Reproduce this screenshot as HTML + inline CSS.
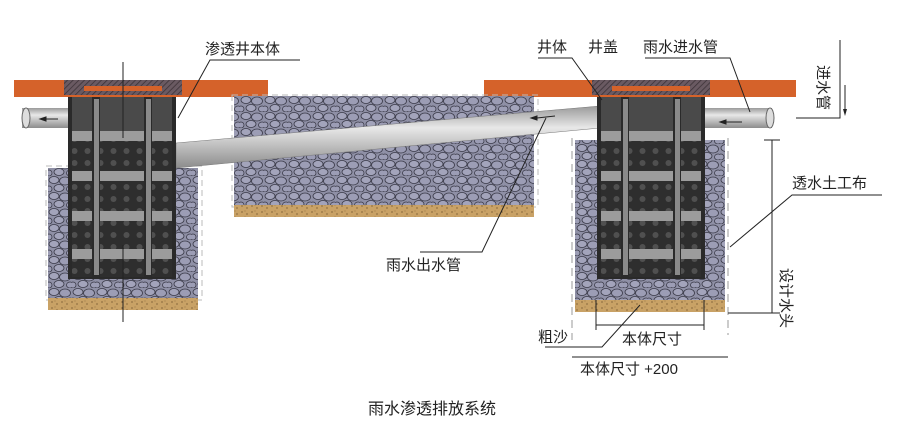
<!DOCTYPE html>
<html><head><meta charset="utf-8"><style>
html,body{margin:0;padding:0;background:#fff}
svg{display:block}
text{font-family:"Liberation Sans","Noto Sans CJK SC",sans-serif;fill:#222}
</style></head><body>
<svg width="900" height="444" viewBox="0 0 900 444" xmlns="http://www.w3.org/2000/svg">
<defs>
<pattern id="grav" width="24" height="16" patternUnits="userSpaceOnUse">
<rect width="24" height="16" fill="#8f90a6"/>
<ellipse cx="6" cy="4" rx="5" ry="3.5" fill="#a3a4bb" stroke="#3a3a48" stroke-width="0.8"/>
<ellipse cx="17" cy="5" rx="5.5" ry="4" fill="#9c9db5" stroke="#3a3a48" stroke-width="0.8"/>
<ellipse cx="11" cy="12" rx="5" ry="3.5" fill="#a3a4bb" stroke="#3a3a48" stroke-width="0.8"/>
<ellipse cx="22" cy="13" rx="3.5" ry="3" fill="#9c9db5" stroke="#3a3a48" stroke-width="0.8"/>
<ellipse cx="1" cy="13" rx="3" ry="3" fill="#9c9db5" stroke="#3a3a48" stroke-width="0.8"/>
</pattern>
<pattern id="sand" width="10" height="6" patternUnits="userSpaceOnUse">
<rect width="10" height="6" fill="#c9a266"/>
<circle cx="2" cy="2" r="0.6" fill="#5a4020"/><circle cx="7" cy="4" r="0.6" fill="#5a4020"/><circle cx="5" cy="1" r="0.4" fill="#5a4020"/>
</pattern>
<pattern id="dots" width="13" height="12" patternUnits="userSpaceOnUse">
<rect width="13" height="12" fill="#2e2e2e"/>
<circle cx="6.5" cy="6" r="3" fill="#505050"/>
</pattern>
<pattern id="hatch" width="4" height="4" patternUnits="userSpaceOnUse" patternTransform="rotate(45)">
<rect width="4" height="4" fill="#6a5a62"/><line x1="0" y1="0" x2="0" y2="4" stroke="#3a3035" stroke-width="1.5"/>
</pattern>
<linearGradient id="pipe" x1="0" y1="0" x2="0" y2="1">
<stop offset="0" stop-color="#9a9a9a"/><stop offset="0.35" stop-color="#e8e8e8"/><stop offset="1" stop-color="#8c8c8c"/>
</linearGradient>
<g id="well">
<rect x="0" y="0" width="108" height="182" fill="#2a2a2a"/>
<rect x="4" y="0" width="100" height="34" fill="#4a4a4a"/>
<rect x="4" y="44" width="100" height="30" fill="url(#dots)"/>
<rect x="4" y="84" width="100" height="30" fill="url(#dots)"/>
<rect x="4" y="124" width="100" height="30" fill="url(#dots)"/>
<rect x="4" y="162" width="100" height="18" fill="url(#dots)"/>
<rect x="4" y="34" width="100" height="10" fill="#9c9c9c"/>
<rect x="4" y="74" width="100" height="10" fill="#9c9c9c"/>
<rect x="4" y="114" width="100" height="10" fill="#9c9c9c"/>
<rect x="4" y="152" width="100" height="10" fill="#9c9c9c"/>
<rect x="24" y="0" width="8" height="180" fill="#2a2a2a"/>
<rect x="26" y="2" width="5" height="176" fill="#8a8a8a"/>
<rect x="76" y="0" width="8" height="180" fill="#2a2a2a"/>
<rect x="78" y="2" width="5" height="176" fill="#8a8a8a"/>
</g>
</defs>

<!-- road strips -->
<rect x="14" y="80" width="254" height="17" fill="#d5622a"/>
<rect x="484" y="80" width="312" height="17" fill="#d5622a"/>

<!-- left gravel -->
<rect x="46" y="166" width="156" height="134" fill="none" stroke="#bbb" stroke-dasharray="6,4"/>
<rect x="48" y="168" width="150" height="130" fill="url(#grav)"/>
<rect x="48" y="298" width="150" height="12" fill="url(#sand)"/>

<!-- middle gravel -->
<rect x="232" y="95" width="306" height="112" fill="none" stroke="#bbb" stroke-dasharray="6,4"/>
<rect x="234" y="96" width="300" height="109" fill="url(#grav)"/>
<rect x="234" y="205" width="300" height="12" fill="url(#sand)"/>

<!-- right gravel -->
<rect x="575" y="140" width="150" height="160" fill="url(#grav)"/>
<rect x="575" y="300" width="150" height="12" fill="url(#sand)"/>
<line x1="572" y1="138" x2="572" y2="340" stroke="#999" stroke-dasharray="8,5"/>
<line x1="728" y1="138" x2="728" y2="335" stroke="#999" stroke-dasharray="8,5"/>

<!-- pipes -->
<polygon points="176,143 600,106 600,128 176,168" fill="url(#pipe)" stroke="#777" stroke-width="0.5"/>
<rect x="22" y="108" width="50" height="20" fill="url(#pipe)"/>
<ellipse cx="26" cy="118" rx="4" ry="10" fill="#ddd" stroke="#666"/>
<rect x="704" y="108" width="68" height="20" fill="url(#pipe)"/>
<ellipse cx="770" cy="118" rx="4" ry="10" fill="#ddd" stroke="#666"/>

<!-- wells -->
<use href="#well" x="68" y="97"/>
<use href="#well" x="597" y="97"/>

<!-- covers -->
<path d="M64,80 H182 V95 H64Z" fill="url(#hatch)"/>
<rect x="84" y="86" width="78" height="5" fill="#d5622a"/>
<path d="M592,80 H710 V95 H592Z" fill="url(#hatch)"/>
<rect x="612" y="86" width="78" height="5" fill="#d5622a"/>

<!-- arrows in pipes -->
<g stroke="#222" stroke-width="1" fill="#222">
<line x1="45" y1="119" x2="58" y2="119"/><polygon points="40,119 46,117 46,121"/>
<line x1="537" y1="118" x2="555" y2="116"/><polygon points="531,118 537,116 537,120"/>
<line x1="725" y1="122" x2="742" y2="122"/><polygon points="720,122 726,120 726,124"/>
</g>

<!-- center lines -->
<line x1="123" y1="62" x2="123" y2="138" stroke="#222"/>
<line x1="123" y1="245" x2="123" y2="322" stroke="#222"/>

<!-- leaders -->
<g stroke="#222" stroke-width="1" fill="none">
<polyline points="300,60 210,60 178,118"/>
<polyline points="538,58 572,58 602,100"/>
<polyline points="645,58 730,58 750,112"/>
<polyline points="796,118 840,118 840,40"/>
<polyline points="882,195 792,195 730,247"/>
<polyline points="420,252 482,252 546,118"/>
<polyline points="545,347 602,347 640,305"/>
<line x1="845" y1="85" x2="845" y2="112"/>
<line x1="772" y1="140" x2="772" y2="313"/>
<line x1="764" y1="140" x2="780" y2="140"/><line x1="728" y1="313" x2="780" y2="313"/>
<line x1="596" y1="325" x2="704" y2="325"/>
<line x1="596" y1="300" x2="596" y2="330"/><line x1="704" y1="300" x2="704" y2="330"/>
<line x1="572" y1="357" x2="728" y2="357"/>
</g>
<polygon points="845,116 843,109 847,109" fill="#222"/>

<!-- labels -->
<text x="205" y="54" font-size="15">渗透井本体</text>
<text x="537" y="52" font-size="15">井体</text>
<text x="588" y="52" font-size="15">井盖</text>
<text x="643" y="52" font-size="15">雨水进水管</text>
<text x="792" y="188" font-size="15">透水土工布</text>
<text x="386" y="270" font-size="15">雨水出水管</text>
<text x="538" y="342" font-size="15">粗沙</text>
<text x="622" y="344" font-size="15">本体尺寸</text>
<text x="580" y="374" font-size="15">本体尺寸 +200</text>
<text x="368" y="414" font-size="16">雨水渗透排放系统</text>
<text font-size="15" transform="translate(818,65) rotate(90)">进水管</text>
<text font-size="15" transform="translate(781,268) rotate(90)">设计水头</text>
</svg>
</body></html>
